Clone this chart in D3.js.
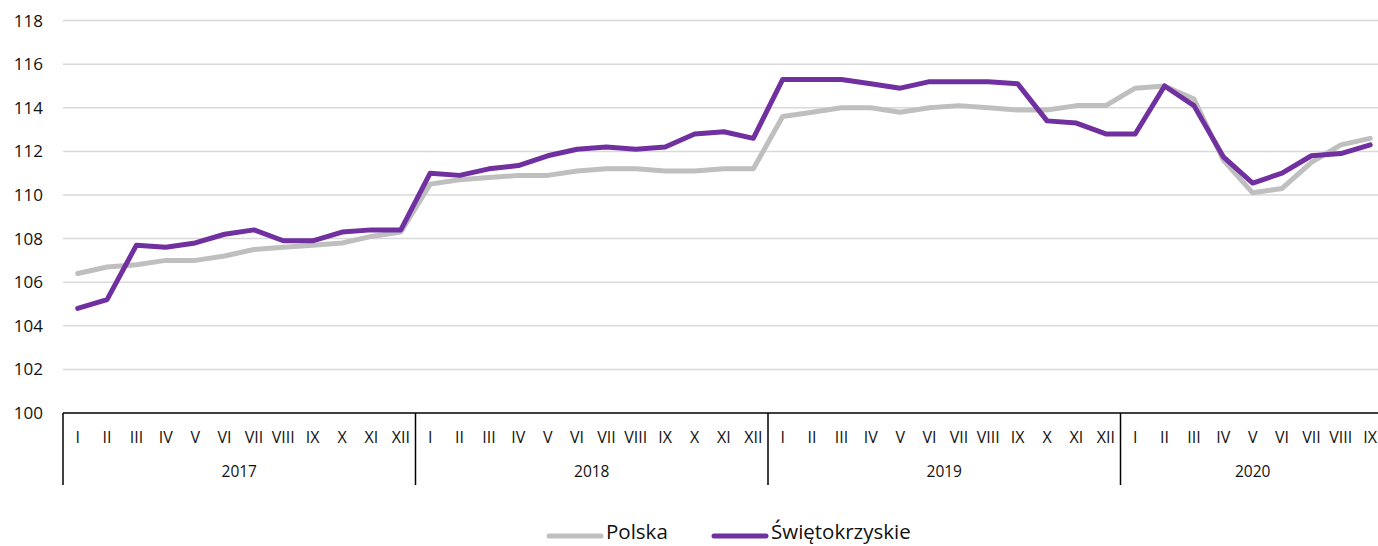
<!DOCTYPE html>
<html>
<head>
<meta charset="utf-8">
<script src="https://cdn.jsdelivr.net/npm/d3@7"></script>
<style>
  body { margin: 0; background: #fff; }
  svg { display: block; font-family: 'Open Sans', 'Noto Sans', sans-serif; }
</style>
</head>
<body>
<div id="chart"></div>
<script>
const years = ['2017', '2018', '2019', '2020'];
const monthsPerYear = [12, 12, 12, 9];
const romans = ['I', 'II', 'III', 'IV', 'V', 'VI', 'VII', 'VIII', 'IX', 'X', 'XI', 'XII'];

const polska = [
  106.4, 106.7, 106.8, 107.0, 107.0, 107.2, 107.5, 107.6, 107.7, 107.8, 108.1, 108.3,
  110.5, 110.7, 110.8, 110.9, 110.9, 111.1, 111.2, 111.2, 111.1, 111.1, 111.2, 111.2,
  113.6, 113.8, 114.0, 114.0, 113.8, 114.0, 114.1, 114.0, 113.9, 113.9, 114.1, 114.1,
  114.9, 115.0, 114.4, 111.6, 110.1, 110.3, 111.5, 112.3, 112.6
];
const swietokrzyskie = [
  104.8, 105.2, 107.7, 107.6, 107.8, 108.2, 108.4, 107.9, 107.9, 108.3, 108.4, 108.4,
  111.0, 110.9, 111.2, 111.35, 111.8, 112.1, 112.2, 112.1, 112.2, 112.8, 112.9, 112.6,
  115.3, 115.3, 115.3, 115.1, 114.9, 115.2, 115.2, 115.2, 115.1, 113.4, 113.3, 112.8,
  112.8, 115.0, 114.1, 111.75, 110.55, 111.0, 111.8, 111.9, 112.3
];
const yTicks = [100, 102, 104, 106, 108, 110, 112, 114, 116, 118];

const series = [
  { name: 'Polska', values: polska, color: '#bfbfbf' },
  { name: 'Świętokrzyskie', values: swietokrzyskie, color: '#7030a0' }
];

// one entry per month: year + roman label
const months = [];
years.forEach((y, yi) => {
  for (let m = 0; m < monthsPerYear[yi]; m++) months.push({ year: y, label: romans[m] });
});

const width = 1378, height = 546;
const left = 63, axisY = 413, topY = 20.6;
const monthW = 352.5 / 12;

const svg = d3.select('#chart').append('svg')
  .attr('width', width).attr('height', height);

const x = d3.scaleBand()
  .domain(d3.range(months.length))
  .range([left, left + months.length * monthW]);
const y = d3.scaleLinear().domain([100, 118]).range([axisY, topY]);

// gridlines
svg.append('g').selectAll('line')
  .data(yTicks.filter(t => t > 100))
  .join('line')
  .attr('x1', left).attr('x2', width)
  .attr('y1', d => y(d)).attr('y2', d => y(d))
  .attr('stroke', '#d9d9d9').attr('stroke-width', 1.5);

// y labels
svg.append('g').selectAll('text')
  .data(yTicks)
  .join('text')
  .attr('x', 43).attr('y', d => y(d))
  .attr('dy', '0.35em')
  .attr('text-anchor', 'end')
  .attr('font-size', 17)
  .attr('fill', '#111')
  .text(d => d);

// x axis line
svg.append('line')
  .attr('x1', left).attr('x2', width)
  .attr('y1', axisY).attr('y2', axisY)
  .attr('stroke', '#000').attr('stroke-width', 1.5);

// month labels
svg.append('g').selectAll('text')
  .data(months)
  .join('text')
  .attr('x', (d, i) => x(i) + x.bandwidth() / 2)
  .attr('y', 437)
  .attr('dy', '0.35em')
  .attr('text-anchor', 'middle')
  .attr('font-size', 16)
  .attr('fill', '#111')
  .text(d => d.label);

// year separators and labels
let start = 0;
const yearSpans = years.map((yr, yi) => {
  const s = { year: yr, from: start, to: start + monthsPerYear[yi] - 1 };
  start += monthsPerYear[yi];
  return s;
});
svg.append('g').selectAll('line')
  .data(yearSpans)
  .join('line')
  .attr('x1', d => x(d.from)).attr('x2', d => x(d.from))
  .attr('y1', axisY).attr('y2', 485)
  .attr('stroke', '#000').attr('stroke-width', 1.5);
svg.append('g').selectAll('text')
  .data(yearSpans)
  .join('text')
  .attr('x', d => (x(d.from) + x(d.to) + x.bandwidth()) / 2)
  .attr('y', 472)
  .attr('dy', '0.35em')
  .attr('text-anchor', 'middle')
  .attr('font-size', 15.5)
  .attr('fill', '#111')
  .text(d => d.year);

// lines
const line = d3.line()
  .x((d, i) => x(i) + x.bandwidth() / 2)
  .y(d => y(d));
svg.append('g').selectAll('path')
  .data(series)
  .join('path')
  .attr('d', d => line(d.values))
  .attr('fill', 'none')
  .attr('stroke', d => d.color)
  .attr('stroke-width', 5)
  .attr('stroke-linejoin', 'round')
  .attr('stroke-linecap', 'round');

// legend
const legendX = [547, 712];
const lg = svg.append('g').selectAll('g')
  .data(series)
  .join('g')
  .attr('transform', (d, i) => `translate(${legendX[i]}, 532)`);
lg.append('line')
  .attr('x1', 2).attr('x2', 54)
  .attr('y1', 4).attr('y2', 4)
  .attr('stroke', d => d.color)
  .attr('stroke-width', 5)
  .attr('stroke-linecap', 'round');
lg.append('text')
  .attr('x', 59).attr('dy', '0.35em')
  .attr('font-size', 20.5)
  .attr('fill', '#111')
  .text(d => d.name);
</script>
</body>
</html>
